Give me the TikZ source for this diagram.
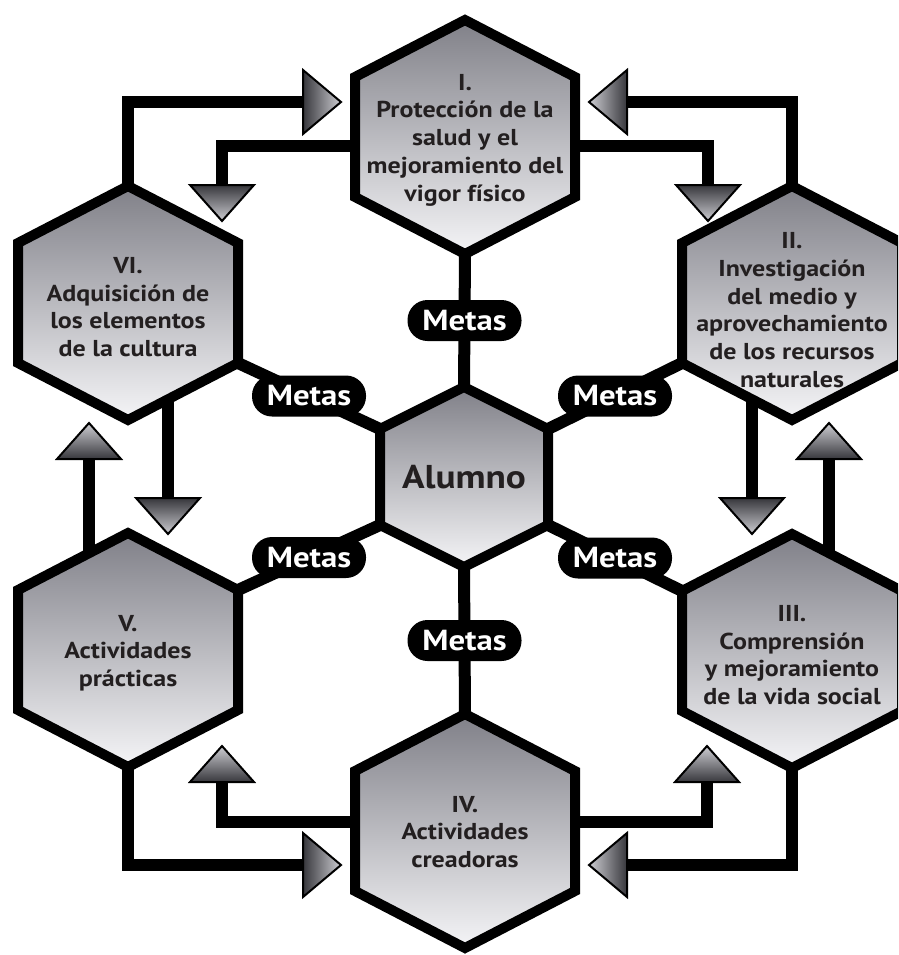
\documentclass[tikz,border=0pt]{standalone}
\usepackage{fontspec}
\setmainfont{PT Sans}[FakeStretch=1.13]
\usetikzlibrary{calc}
\definecolor{hexTop}{RGB}{128,128,136}
\definecolor{hexBot}{RGB}{245,245,247}
\definecolor{arrDark}{RGB}{55,55,60}
\definecolor{arrLight}{RGB}{205,205,210}
\definecolor{txt}{RGB}{35,31,32}
\newcommand\drawHex[6]{%
  \coordinate (#1) at (#2,#3);
  \coordinate (#1-t) at (#2,#3-#5);
  \coordinate (#1-b) at (#2,#3+#5);
  \coordinate (#1-ul) at (#2-#4,#3-#6);
  \coordinate (#1-ur) at (#2+#4,#3-#6);
  \coordinate (#1-ll) at (#2-#4,#3+#6);
  \coordinate (#1-lr) at (#2+#4,#3+#6);
}
\newcommand\fillHex[1]{%
  \path[hexbox] (#1-t) -- (#1-ur) -- (#1-lr) -- (#1-b) -- (#1-ll) -- (#1-ul) -- cycle;}
\newcommand\tipR[1]{\path[arrhead, left color=arrDark, right color=arrLight] (#1) ++(0,-32) -- ++(38,32) -- ++(-38,32) -- cycle;}
\newcommand\tipL[1]{\path[arrhead, right color=arrDark, left color=arrLight] (#1) ++(0,-32) -- ++(-38,32) -- ++(38,32) -- cycle;}
\newcommand\tipD[1]{\path[arrhead, top color=arrDark, bottom color=arrLight] (#1) ++(-32,0) -- ++(32,36) -- ++(32,-36) -- cycle;}
\newcommand\tipU[1]{\path[arrhead, bottom color=arrDark, top color=arrLight] (#1) ++(-32,0) -- ++(32,-36) -- ++(32,36) -- cycle;}
\begin{document}
\begin{tikzpicture}[x=1pt,y=-1pt,
  conn/.style={line width=12pt, line join=miter, draw=black},
  hexbox/.style={draw=black, line width=10pt, line join=miter, top color=hexTop, bottom color=hexBot},
  arrhead/.style={draw=black, line width=2pt, line join=miter},
  pill/.style={fill=black, rounded corners=20pt, minimum width=114pt, minimum height=41pt, inner sep=0pt, text=white, font=\bfseries\fontsize{29}{29}\selectfont},
  hextext/.style={align=center, text=txt, font=\bfseries\fontsize{23}{27.7}\selectfont, inner sep=0pt}]
\useasboundingbox (0,0) rectangle (898,955);
\fill[white] (0,0) rectangle (898,955);
\clip (0,0) rectangle (898,955);
% hexagon geometry
\drawHex{I}{465}{137}{110}{117}{60}
\drawHex{VI}{128}{303}{110}{117}{60}
\drawHex{II}{792}{303}{110}{117}{60}
\drawHex{C}{464}{477}{84}{90}{48}
\drawHex{V}{128}{650}{110}{117}{60}
\drawHex{III}{792}{651}{110}{117}{60}
\drawHex{IV}{465}{831}{110}{117}{60}
% arrow bases
\coordinate (a1) at (303,102);
\coordinate (a2) at (222,185);
\coordinate (a3) at (627,102);
\coordinate (a4) at (708,185);
\coordinate (a5) at (168,498);
\coordinate (a6) at (89,459);
\coordinate (a7) at (752,498);
\coordinate (a8) at (829,459);
\coordinate (a9) at (303,865);
\coordinate (a10) at (222,782);
\coordinate (a11) at (627,865);
\coordinate (a12) at (707,782);
% connectors
\draw[conn] (VI-t) |- (a1);
\draw[conn] ($(I)+(0,9)$) -| (a2);
\draw[conn] (II-t) |- (a3);
\draw[conn] ($(I)+(0,9)$) -| (a4);
\draw[conn] ($(VI)+(40,0)$) -- (a5);
\draw[conn] ($(V)+(-39,0)$) -- (a6);
\draw[conn] ($(II)+(-40,0)$) -- (a7);
\draw[conn] ($(III)+(37,0)$) -- (a8);
\draw[conn] (V-b) |- (a9);
\draw[conn] ($(IV)+(0,-9)$) -| (a10);
\draw[conn] (III-b) |- (a11);
\draw[conn] ($(IV)+(0,-9)$) -| (a12);
\draw[conn] (C-t) -- (I-b);
\draw[conn] (C-ul) -- (VI-lr);
\draw[conn] (C-ur) -- (II-ll);
\draw[conn] (C-ll) -- (V-ur);
\draw[conn] (C-lr) -- (III-ul);
\draw[conn] (C-b) -- (IV-t);
% hexagons
\fillHex{I}\fillHex{VI}\fillHex{II}\fillHex{C}\fillHex{V}\fillHex{III}\fillHex{IV}
% arrowheads
\tipR{a1}\tipD{a2}\tipL{a3}\tipD{a4}
\tipD{a5}\tipU{a6}\tipD{a7}\tipU{a8}
\tipR{a9}\tipU{a10}\tipL{a11}\tipU{a12}
% pills
\node[pill] (m1) at ($(C-t)!0.5!(I-b)$) {Metas};
\node[pill] (m2) at ($(C-ul)!0.5!(VI-lr)$) {Metas};
\node[pill] (m3) at ($(C-ur)!0.5!(II-ll)$) {Metas};
\node[pill] (m4) at ($(C-ll)!0.5!(V-ur)$) {Metas};
\node[pill] (m5) at ($(C-lr)!0.5!(III-ul)$) {Metas};
\node[pill] (m6) at ($(C-b)!0.5!(IV-t)$) {Metas};
% texts
\node[hextext] (tI) at (465,140) {I.\\Protección de la\\salud y el\\mejoramiento del\\vigor físico};
\node[hextext] (tII) at (792,310) {II.\\Investigación\\del medio y\\aprovechamiento\\de los recursos\\naturales};
\node[hextext] (tIII) at (792,655) {III.\\Comprensión\\y mejoramiento\\de la vida social};
\node[hextext] (tIV) at (465,832) {IV.\\Actividades\\creadoras};
\node[hextext] (tV) at (128,653) {V.\\Actividades\\prácticas};
\node[hextext] (tVI) at (128,307) {VI.\\Adquisición de\\los elementos\\de la cultura};
\node[text=txt, font=\bfseries\fontsize{33}{33}\selectfont] (tC) at (464,477) {Alumno};
\end{tikzpicture}
\end{document}
